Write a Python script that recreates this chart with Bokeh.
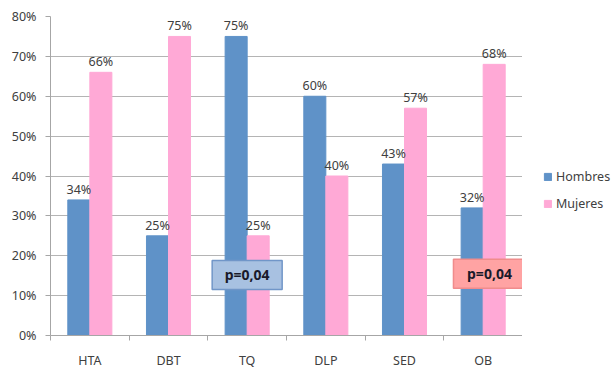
from bokeh.plotting import figure
from bokeh.layouts import row
from bokeh.models import ColumnDataSource, FixedTicker, NumeralTickFormatter, Legend, LegendItem, Range1d
from bokeh.core.properties import value
from bokeh.embed import file_html
from bokeh.resources import INLINE

categories = ["HTA", "DBT", "TQ", "DLP", "SED", "OB"]
hombres = [34, 25, 75, 60, 43, 32]
mujeres = [66, 75, 25, 40, 57, 68]
series_names = ["Hombres", "Mujeres"]
annot_text = "p=0,04"

BLUE = "#5f92c8"
PINK = "#ffa9d6"
FONT = "Noto Sans"

idx = list(range(len(categories)))
xh = [i + 0.5 - 0.14 for i in idx]
xm = [i + 0.5 + 0.14 for i in idx]
src = ColumnDataSource(dict(
    xh=xh, xm=xm,
    h=[v / 100 for v in hombres], m=[v / 100 for v in mujeres],
    hl=[f"{v}%" for v in hombres], ml=[f"{v}%" for v in mujeres],
))

p = figure(width=522, height=371, output_backend="svg", toolbar_location=None,
           x_range=Range1d(0, 6), y_range=Range1d(0, 0.8))
p.min_border_left = 50
p.min_border_right = 0
p.min_border_top = 16
p.min_border_bottom = 27
p.outline_line_color = None
p.background_fill_color = "white"

rh = p.vbar(x="xh", top="h", width=0.28, color=BLUE, source=src)
rm = p.vbar(x="xm", top="m", width=0.28, color=PINK, source=src)

for xcol, ycol, lcol in (("xh", "h", "hl"), ("xm", "m", "ml")):
    p.text(x=xcol, y=ycol, text=lcol, source=src, text_align="center",
           text_baseline="bottom", y_offset=-2, text_font=value(FONT),
           text_font_size="12.5px", text_color="#404040")

# p-value boxes
tq = categories.index("TQ") + 0.5
ob = categories.index("OB") + 0.5 + 0.08
p.rect(x=[tq], y=[0.152], width=70, height=29, width_units="screen", height_units="screen",
       fill_color="#a8c1e1", line_color="#7196c8", line_width=1.5)
p.rect(x=[ob], y=[0.155], width=72, height=29, width_units="screen", height_units="screen",
       fill_color="#ffa3a3", line_color="#f08c8c", line_width=1.5)
p.text(x=[tq, ob], y=[0.152, 0.155], text=[annot_text, annot_text], text_align="center",
       text_baseline="middle", text_font=value(FONT), text_font_size="14px",
       text_font_style="bold", text_color="#1a1a2a")

# axes
p.xgrid.grid_line_color = None
p.ygrid.grid_line_color = "#b4b4b4"
p.ygrid.ticker = FixedTicker(ticks=[i / 10 for i in range(9)])
p.yaxis.ticker = FixedTicker(ticks=[i / 10 for i in range(9)])
p.yaxis.formatter = NumeralTickFormatter(format="0%")
p.yaxis.axis_line_color = "#a6a6a6"
p.yaxis.major_tick_line_color = "#a6a6a6"
p.yaxis.major_tick_out = 5
p.yaxis.major_tick_in = 0
p.yaxis.minor_tick_line_color = None
p.yaxis.major_label_standoff = 9

p.xaxis.ticker = FixedTicker(ticks=[i + 0.5 for i in idx], minor_ticks=list(range(len(categories) + 1)))
p.xaxis.major_label_overrides = {i + 0.5: c for i, c in enumerate(categories)}
p.xaxis.major_tick_line_color = None
p.xaxis.minor_tick_line_color = "#a6a6a6"
p.xaxis.minor_tick_out = 5
p.xaxis.minor_tick_in = 0
p.xaxis.axis_line_color = "#a6a6a6"
p.xaxis.major_label_standoff = 10

for ax in (p.xaxis, p.yaxis):
    ax.major_label_text_font = FONT
    ax.major_label_text_font_size = "12.5px"
    ax.major_label_text_color = "#404040"

# legend panel
lf = figure(width=89, height=371, output_backend="svg", toolbar_location=None,
            x_range=Range1d(0, 1), y_range=Range1d(0, 1))
lf.min_border_left = 0
lf.min_border_right = 0
lf.min_border_top = 0
lf.min_border_bottom = 0
lf.axis.visible = False
lf.grid.visible = False
lf.outline_line_color = None
# legend swatches only (points lie outside the visible range)
dh = lf.vbar(x=[9], top=[9], bottom=[8], width=0.1, color=BLUE)
dm = lf.vbar(x=[9], top=[9], bottom=[8], width=0.1, color=PINK)

legend = Legend(items=[LegendItem(label=series_names[0], renderers=[dh]),
                       LegendItem(label=series_names[1], renderers=[dm])],
                location=(21, 122))
legend.glyph_width = 9
legend.glyph_height = 9
legend.label_height = 20
legend.spacing = 7
legend.padding = 0
legend.margin = 0
legend.label_standoff = 4
legend.border_line_color = None
legend.background_fill_alpha = 0
legend.label_text_font = FONT
legend.label_text_font_size = "12.5px"
legend.label_text_color = "#404040"
lf.add_layout(legend, "center")

layout = row(p, lf, spacing=0)
open("out.html", "w").write(file_html(layout, INLINE))
